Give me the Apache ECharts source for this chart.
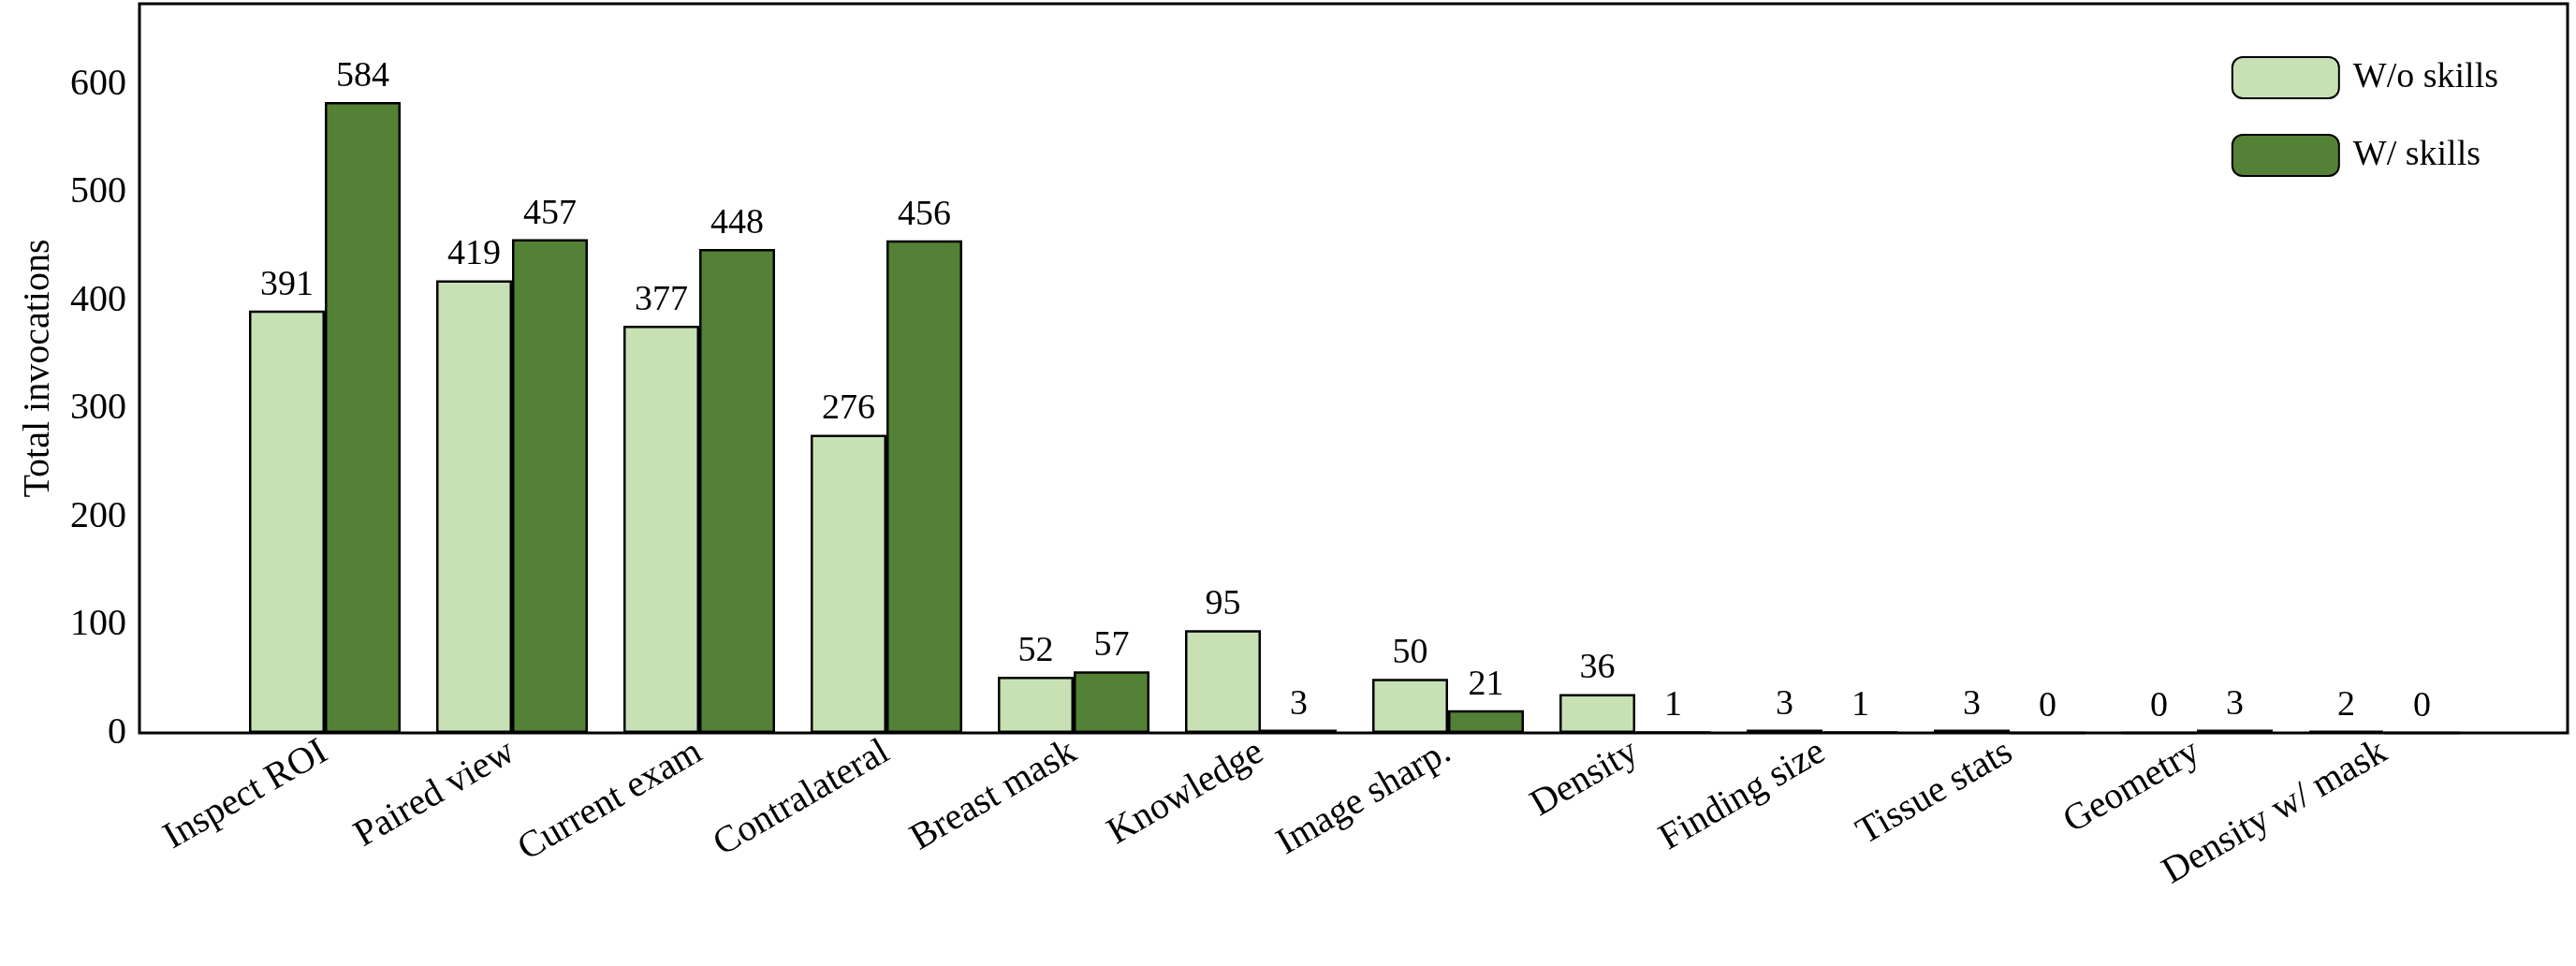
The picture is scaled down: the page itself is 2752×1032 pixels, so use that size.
<!DOCTYPE html>
<html><head><meta charset="utf-8">
<script src="https://cdn.jsdelivr.net/npm/echarts@6/dist/echarts.min.js"></script>
<style>html,body{margin:0;padding:0;background:#fff}#c{width:2752px;height:1032px}</style>
</head><body><div id="c"></div>
<script>
const categories = ["Inspect ROI","Paired view","Current exam","Contralateral","Breast mask","Knowledge","Image sharp.","Density","Finding size","Tissue stats","Geometry","Density w/ mask"];
const woSkills = [391,419,377,276,52,95,50,36,3,3,0,2];
const wSkills = [584,457,448,456,57,3,21,1,1,0,3,0];
const seriesNames = ["W/o skills","W/ skills"];
const yTicks = [0,100,200,300,400,500,600];
const FONT = "Liberation Serif";
const chart = echarts.init(document.getElementById('c'));
const lbl = {show:true,position:'top',distance:8,fontFamily:FONT,fontSize:38,color:'#000'};
chart.setOption({
  animation:false,
  textStyle:{fontFamily:FONT},
  legend:{orient:'vertical',right:78,top:55,itemWidth:114,itemHeight:44,itemGap:37,
    textStyle:{fontFamily:FONT,fontSize:38,color:'#000',padding:[0,0,0,10]},data:seriesNames},
  grid:[
    {left:149,right:9,top:4,bottom:249,show:true,borderColor:'#000',borderWidth:3,backgroundColor:'transparent',containLabel:false},
    {left:247,right:105,top:4,bottom:249,containLabel:false}
  ],
  xAxis:[
    {gridIndex:0,type:'value',min:0,max:1,show:false},
    {gridIndex:1,type:'category',data:categories,axisLine:{show:false},axisTick:{show:false},
     axisLabel:{rotate:30,fontFamily:FONT,fontSize:40,color:'#000',margin:18,interval:0}}
  ],
  yAxis:[
    {gridIndex:0,type:'value',min:0,max:675,interval:100,splitLine:{show:false},axisLine:{show:false},axisTick:{show:false},
     axisLabel:{fontFamily:FONT,fontSize:40,color:'#000',margin:14,formatter:v=>yTicks.includes(v)?String(v):''},
     name:'Total invocations',nameLocation:'middle',nameGap:88,nameTextStyle:{fontFamily:FONT,fontSize:40,color:'#000'}},
    {gridIndex:1,type:'value',min:0,max:675,show:false}
  ],
  series:[
    {name:seriesNames[0],type:'bar',xAxisIndex:1,yAxisIndex:1,data:woSkills,barWidth:81,barGap:'0%',
     itemStyle:{color:'#c7e1b5',borderColor:'#000',borderWidth:2.5},label:lbl},
    {name:seriesNames[1],type:'bar',xAxisIndex:1,yAxisIndex:1,data:wSkills,barWidth:81,barGap:'0%',
     itemStyle:{color:'#538135',borderColor:'#000',borderWidth:2.5},label:lbl}
  ]
});
</script></body></html>
